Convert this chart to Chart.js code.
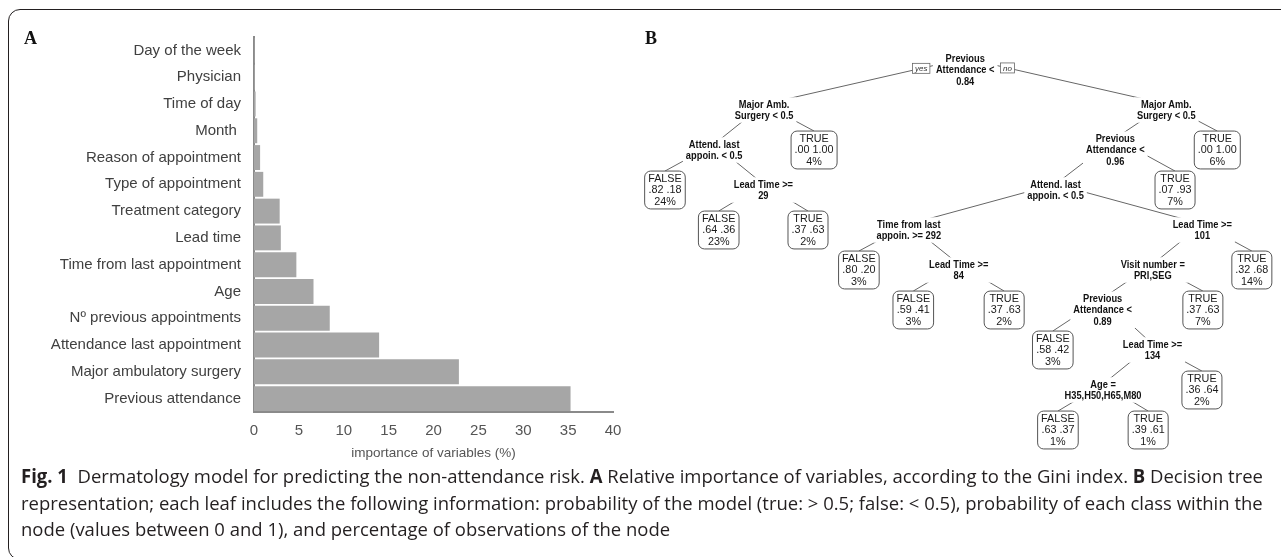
<!DOCTYPE html>
<html><head><meta charset="utf-8">
<script src="https://cdn.jsdelivr.net/npm/chart.js@4.4.1/dist/chart.umd.min.js"></script>
<style>
html,body{margin:0;padding:0;background:#fff;}
body{width:1281px;height:557px;overflow:hidden;position:relative;}
#frame{position:absolute;left:8px;top:9px;width:1400px;height:551px;border:1.5px solid #231f20;border-radius:12px;box-sizing:border-box;}
#cA{position:absolute;left:0;top:0;}
#cB{position:absolute;left:630px;top:0;}
.plab{position:absolute;font:bold 18px "Liberation Serif",serif;color:#111;line-height:18px;}
#cap{position:absolute;left:21px;top:463px;font-family:"Open Sans",sans-serif;font-size:19px;color:#231f20;}
.cl{white-space:nowrap;transform-origin:0 0;height:26.5px;line-height:26.5px;display:inline-block;}
</style></head>
<body>
<div id="frame"></div>
<canvas id="cA" width="640" height="480"></canvas>
<canvas id="cB" width="651" height="470"></canvas>
<div class="plab" style="left:24px;top:29px">A</div>
<div class="plab" style="left:645px;top:29px">B</div>
<div id="cap">
<div><span class="cl" id="l1"><b>Fig. 1</b>&nbsp; Dermatology model for predicting the non-attendance risk. <b>A</b> Relative importance of variables, according to the Gini index. <b>B</b> Decision tree</span></div>
<div><span class="cl" id="l2">representation; each leaf includes the following information: probability of the model (true: &gt; 0.5; false: &lt; 0.5), probability of each class within the</span></div>
<div><span class="cl" id="l3">node (values between 0 and 1), and percentage of observations of the node</span></div>
</div>
<script>
// ---------- Panel A data ----------
const categories = ['Day of the week','Physician','Time of day','Month ','Reason of appointment','Type of appointment','Treatment category','Lead time','Time from last appointment','Age','N\u00BA previous appointments','Attendance last appointment','Major ambulatory surgery','Previous attendance'];
const importance = [0.05,0.08,0.18,0.36,0.68,1.03,2.86,2.99,4.72,6.63,8.44,13.94,22.83,35.27];
const xTickValues = [0,5,10,15,20,25,30,35,40];
const xAxisTitle = 'importance of variables (%)';

// ---------- Panel B data (decision tree) ----------
const nodeParent = [-1,0,0,1,1,2,2,3,3,5,5,8,8,9,9,13,13,14,14,16,16,17,17,21,21,24,24,25,25];
const splitText = ['Previous\nAttendance <\n0.84','Major Amb.\nSurgery < 0.5','Major Amb.\nSurgery < 0.5','Attend. last\nappoin. < 0.5',null,'Previous\nAttendance <\n0.96',null,null,'Lead Time >=\n29','Attend. last\nappoin. < 0.5',null,null,null,'Time from last\nappoin. >= 292','Lead Time >=\n101',null,'Lead Time >=\n84','Visit number =\nPRI,SEG',null,null,null,'Previous\nAttendance <\n0.89',null,null,'Lead Time >=\n134','Age =\nH35,H50,H65,M80',null,null,null];
const leafProbFalse = [null,null,null,null,0.00,null,0.00,0.82,null,null,0.07,0.64,0.37,null,null,0.80,null,null,0.32,0.59,0.37,null,0.37,0.58,null,null,0.36,0.63,0.39];
const leafProbTrue  = [null,null,null,null,1.00,null,1.00,0.18,null,null,0.93,0.36,0.63,null,null,0.20,null,null,0.68,0.41,0.63,null,0.63,0.42,null,null,0.64,0.37,0.61];
const leafPercent   = [null,null,null,null,4,null,6,24,null,null,7,23,2,null,null,3,null,null,14,3,2,null,7,3,null,null,2,1,1];
const branchLabels = ['yes','no'];

// ---------- Panel B layout (horizontal leaf positions in tree units 0..100) ----------
const leafLayoutX = {4:27.2,6:90.2,7:3.9,10:83.6,11:12.3,12:26.25,15:34.2,18:95.6,19:42.7,20:56.9,22:87.95,23:64.5,26:87.8,27:65.3,28:79.4};

// ---------- Panel A chart ----------
new Chart(document.getElementById('cA'), {
  type:'bar',
  data:{labels:categories, datasets:[{data:importance, backgroundColor:'#a6a6a6', borderWidth:0, barPercentage:0.93, categoryPercentage:1}]},
  options:{
    indexAxis:'y', responsive:false, animation:false, events:[],
    layout:{padding:{left:0,right:27,top:37,bottom:0}},
    plugins:{legend:{display:false},tooltip:{enabled:false}},
    scales:{
      x:{min:0,max:40,
         afterBuildTicks(s){ s.ticks = xTickValues.map(v=>({value:v})); },
         ticks:{color:'#555',font:{family:'Liberation Sans',size:15},padding:10,maxRotation:0},
         grid:{display:false,drawTicks:false},
         border:{display:true,color:'#8a8a8a',width:2},
         title:{display:true,text:xAxisTitle,color:'#555',font:{family:'Liberation Sans',size:13.5},padding:{top:4,bottom:19}},
         afterFit(s){ s.height = 68; }},
      y:{z:1,
         ticks:{color:'#404040',font:{family:'Liberation Sans',size:15},padding:13},
         grid:{display:false,drawTicks:false},
         border:{display:true,color:'#8a8a8a',width:2},
         afterFit(s){ s.width = 254; }}
    }
  }
});

// ---------- Panel B tree structure ----------
const N = nodeParent.length;
const children = Array.from({length:N},()=>[]);
nodeParent.forEach((p,i)=>{ if(p>=0) children[p].push(i); });
const depth = nodeParent.map((p,i)=>{ let d=0,k=i; while(nodeParent[k]>=0){k=nodeParent[k];d++;} return d; });
const nodeX = new Array(N);
function placeX(i){ if(children[i].length===0){ nodeX[i]=leafLayoutX[i]; return nodeX[i]; }
  const xs = children[i].map(placeX); nodeX[i] = (xs[0]+xs[xs.length-1])/2; return nodeX[i]; }
placeX(0);
const fmtP = v => { const s=v.toFixed(2); return s.startsWith('0') ? s.slice(1) : s; };

const SPLIT_FONT = 'bold 10.7px "Liberation Sans", Arial, sans-serif';
const SPLIT_SX = 0.87, SPLIT_LH = 11.7;
const LEAF_FONT = '10.8px "Liberation Sans", Arial, sans-serif';
const LEAF_LH = 11.8;

const treePlugin = {
  id:'tree',
  afterDatasetsDraw(chart){
    const ctx = chart.ctx;
    const pts = chart.getDatasetMeta(0).data;
    ctx.save();
    const geo = pts.map((pt,i)=>{
      const isLeaf = children[i].length===0;
      let lines, w, h, anchorY;
      if(!isLeaf){
        lines = splitText[i].split('\n');
        ctx.font = SPLIT_FONT;
        w = Math.max(...lines.map(l=>ctx.measureText(l).width))*SPLIT_SX;
        h = lines.length*SPLIT_LH;
        anchorY = pt.y - (lines.length-1)/2*SPLIT_LH;
      } else {
        const pT = leafProbTrue[i];
        lines = [pT>0.5?'TRUE':'FALSE', fmtP(leafProbFalse[i])+' '+fmtP(pT), leafPercent[i]+'%'];
        ctx.font = LEAF_FONT;
        w = Math.max(...lines.map(l=>ctx.measureText(l).width))+7;
        h = 3*LEAF_LH+2.5;
        anchorY = pt.y - h/2;
      }
      return {x:pt.x,y:pt.y,lines,w,h,isLeaf,anchorY};
    });
    // edges
    ctx.strokeStyle = '#666'; ctx.lineWidth = 1;
    for(let i=1;i<N;i++){
      const p = geo[nodeParent[i]], c = geo[i];
      ctx.beginPath(); ctx.moveTo(p.x,p.anchorY); ctx.lineTo(c.x,c.anchorY); ctx.stroke();
    }
    // labels
    geo.forEach((g,i)=>{
      if(!g.isLeaf){
        ctx.fillStyle='#fff';
        ctx.fillRect(g.x-g.w/2-3, g.y-g.h/2-1, g.w+6, g.h+2);
        ctx.font = SPLIT_FONT; ctx.fillStyle='#111'; ctx.textAlign='center'; ctx.textBaseline='middle';
        g.lines.forEach((l,j)=>{
          ctx.save(); ctx.translate(g.x, g.y-(g.lines.length-1)/2*SPLIT_LH + j*SPLIT_LH); ctx.scale(SPLIT_SX,1);
          ctx.fillText(l,0,0.5); ctx.restore();
        });
      } else {
        const x0=g.x-g.w/2, y0=g.y-g.h/2;
        ctx.beginPath(); ctx.roundRect(x0,y0,g.w,g.h,6);
        ctx.fillStyle='#fff'; ctx.fill();
        ctx.strokeStyle='#555'; ctx.lineWidth=1; ctx.stroke();
        ctx.font = LEAF_FONT; ctx.fillStyle='#1a1a1a'; ctx.textAlign='center'; ctx.textBaseline='middle';
        g.lines.forEach((l,j)=>ctx.fillText(l, g.x, g.y+(j-1)*LEAF_LH+0.5));
      }
    });
    // yes / no tags on root branches
    const r = geo[0];
    children[0].forEach((ci,k)=>{
      const c = geo[ci];
      ctx.font = 'italic 8px "Liberation Sans", Arial, sans-serif';
      const tw = ctx.measureText(branchLabels[k]).width + 5, th = 10;
      const cx = k===0 ? r.x - r.w/2 - 6 - tw/2 : r.x + r.w/2 + 6 + tw/2;
      const t = (cx - r.x)/(c.x - r.x);
      const cy = r.anchorY + t*(c.anchorY - r.anchorY);
      ctx.fillStyle='#fff'; ctx.fillRect(cx-tw/2, cy-th/2, tw, th);
      ctx.strokeStyle='#666'; ctx.lineWidth=0.8; ctx.strokeRect(cx-tw/2, cy-th/2, tw, th);
      ctx.fillStyle='#333'; ctx.textAlign='center'; ctx.textBaseline='middle';
      ctx.fillText(branchLabels[k], cx, cy+0.5);
    });
    ctx.restore();
  }
};

new Chart(document.getElementById('cB'), {
  type:'scatter',
  data:{datasets:[{data: nodeX.map((x,i)=>({x, y:depth[i]})), pointRadius:0, pointHoverRadius:0}]},
  options:{
    responsive:false, animation:false, events:[],
    layout:{padding:{left:10,right:1,top:50,bottom:20}},
    plugins:{legend:{display:false},tooltip:{enabled:false}},
    scales:{x:{type:'linear',min:0,max:100,display:false}, y:{type:'linear',min:-0.5,max:9.5,reverse:true,display:false}}
  },
  plugins:[treePlugin]
});

// ---------- caption fitting ----------
(function(){
  const l1=document.getElementById('l1');
  const s = 1242 / l1.getBoundingClientRect().width;
  ['l1','l2','l3'].forEach(id=>{ document.getElementById(id).style.transform='scaleX('+s+')'; });
})();
</script>
</body></html>
